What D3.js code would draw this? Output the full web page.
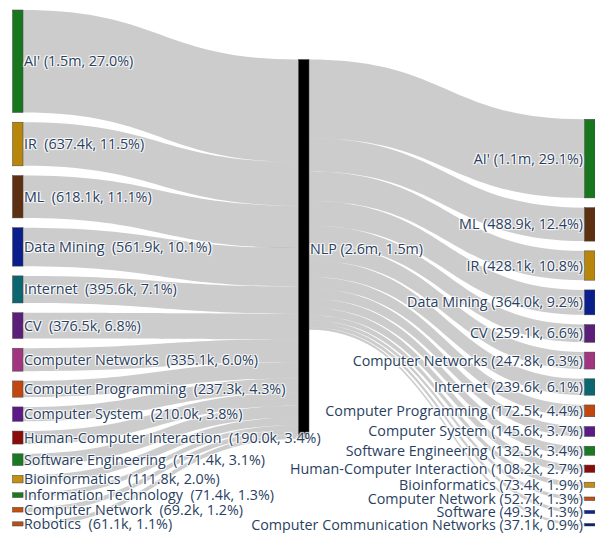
<!DOCTYPE html>
<html>
<head>
<meta charset="utf-8">
<script src="https://cdn.jsdelivr.net/npm/d3@7"></script>
<style>
  html, body { margin: 0; padding: 0; background: #fff; }
  svg { display: block; }
  .lbl { font-family: "Open Sans", sans-serif; font-size: 14.3px; fill: #2a3f5f; white-space: pre;
         text-shadow: 1px 1px 1px #fff, -1px -1px 1px #fff, 1px -1px 1px #fff, -1px 1px 1px #fff; }
</style>
</head>
<body>
<div id="chart"></div>
<script>
// ---------- data (values in thousands) ----------
const leftNames = ["AI'", "IR", "ML", "Data Mining", "Internet", "CV", "Computer Networks",
  "Computer Programming", "Computer System", "Human-Computer Interaction", "Software Engineering",
  "Bioinformatics", "Information Technology", "Computer Network", "Robotics"];
const leftValues = [1496.8, 637.4, 618.1, 561.9, 395.6, 376.5, 335.1, 237.3, 210.0, 190.0, 171.4, 111.8, 71.4, 69.2, 61.1];
const leftLabels = ["AI' (1.5m, 27.0%)", "IR  (637.4k, 11.5%)", "ML  (618.1k, 11.1%)",
  "Data Mining  (561.9k, 10.1%)", "Internet  (395.6k, 7.1%)", "CV  (376.5k, 6.8%)",
  "Computer Networks  (335.1k, 6.0%)", "Computer Programming  (237.3k, 4.3%)",
  "Computer System  (210.0k, 3.8%)", "Human-Computer Interaction  (190.0k, 3.4%)",
  "Software Engineering  (171.4k, 3.1%)", "Bioinformatics  (111.8k, 2.0%)",
  "Information Technology  (71.4k, 1.3%)", "Computer Network  (69.2k, 1.2%)", "Robotics  (61.1k, 1.1%)"];

const midName = "NLP";
const midLabel = "NLP (2.6m, 1.5m)";

const rightNames = ["AI'", "ML", "IR", "Data Mining", "CV", "Computer Networks", "Internet",
  "Computer Programming", "Computer System", "Software Engineering", "Human-Computer Interaction",
  "Bioinformatics", "Computer Network", "Software", "Computer Communication Networks"];
const rightValues = [1148.7, 488.9, 428.1, 364.0, 259.1, 247.8, 239.6, 172.5, 145.6, 132.5, 108.2, 73.4, 52.7, 49.3, 37.1];
const rightLabels = ["AI' (1.1m, 29.1%)", "ML (488.9k, 12.4%)", "IR (428.1k, 10.8%)",
  "Data Mining (364.0k, 9.2%)", "CV (259.1k, 6.6%)", "Computer Networks (247.8k, 6.3%)",
  "Internet (239.6k, 6.1%)", "Computer Programming (172.5k, 4.4%)", "Computer System (145.6k, 3.7%)",
  "Software Engineering (132.5k, 3.4%)", "Human-Computer Interaction (108.2k, 2.7%)",
  "Bioinformatics (73.4k, 1.9%)", "Computer Network (52.7k, 1.3%)", "Software (49.3k, 1.3%)",
  "Computer Communication Networks (37.1k, 0.9%)"];

// ---------- styles ----------
const nodeColor = {
  "AI'": "#18761f", "IR": "#b8860b", "ML": "#5c3010", "Data Mining": "#0a1f8c",
  "Internet": "#0c6670", "CV": "#5b1e79", "Computer Networks": "#a23580",
  "Computer Programming": "#c1470f", "Computer System": "#5b1a87",
  "Human-Computer Interaction": "#8b0b0b", "Software Engineering": "#197a21",
  "Bioinformatics": "#c49012", "Information Technology": "#1b7a1e",
  "Computer Network": "#c4500f", "Robotics": "#b5501c", "Software": "#0b2596",
  "Computer Communication Networks": "#0b1f70", "NLP": "#000000"
};

(function () {
const W = 595, H = 533;
const nodeW = 10.5, pad = 9.75;
const yTop = 10, yBottom = 526;
const midTop = 59.5;

const svg = d3.select("#chart").append("svg").attr("width", W).attr("height", H);

const xCol = d3.scaleLinear().domain([0, 2]).range([12.5, W - nodeW]);

const leftTotal = d3.sum(leftValues), rightTotal = d3.sum(rightValues);
const ky = (yBottom - yTop - (leftNames.length - 1) * pad) / leftTotal;
const hScale = d3.scaleLinear().domain([0, leftTotal]).range([0, leftTotal * ky]);

let y = yTop;
const leftNodes = leftNames.map((n, i) => {
  const h = hScale(leftValues[i]);
  const node = { name: n, label: leftLabels[i], x0: xCol(0), x1: xCol(0) + nodeW, y0: y, y1: y + h };
  y += h + pad; return node;
});
const rightH = d3.sum(rightValues, v => hScale(v)) + (rightNames.length - 1) * pad;
y = yBottom - rightH;
const rightNodes = rightNames.map((n, i) => {
  const h = hScale(rightValues[i]);
  const node = { name: n, label: rightLabels[i], x0: xCol(2), x1: xCol(2) + nodeW, y0: y, y1: y + h };
  y += h + pad; return node;
});
const midH = hScale(Math.max(leftTotal, rightTotal));
const midNode = { name: midName, label: midLabel, x0: xCol(1), x1: xCol(1) + nodeW, y0: midTop, y1: midTop + midH };

const links = [];
let inY = midNode.y0;
leftNodes.forEach((s, i) => {
  const w = hScale(leftValues[i]);
  links.push({ x0: s.x1, x1: midNode.x0, sy: s.y0, ty: inY, w });
  inY += w;
});
let outY = midNode.y0;
rightNodes.forEach((t, i) => {
  const w = hScale(rightValues[i]);
  links.push({ x0: midNode.x1, x1: t.x0, sy: outY, ty: t.y0, w });
  outY += w;
});

function linkPath(d) {
  const xm = (d.x0 + d.x1) / 2;
  const p = d3.path();
  p.moveTo(d.x0, d.sy);
  p.bezierCurveTo(xm, d.sy, xm, d.ty, d.x1, d.ty);
  p.lineTo(d.x1, d.ty + d.w);
  p.bezierCurveTo(xm, d.ty + d.w, xm, d.sy + d.w, d.x0, d.sy + d.w);
  p.closePath();
  return p.toString();
}

svg.append("g").selectAll("path").data(links).join("path")
  .attr("d", linkPath)
  .attr("fill", "rgba(0,0,0,0.2)");

const allNodes = leftNodes.concat([midNode], rightNodes);
svg.append("g").selectAll("rect").data(allNodes).join("rect")
  .attr("x", d => d.x0).attr("y", d => d.y0)
  .attr("width", d => d.x1 - d.x0).attr("height", d => Math.max(1, d.y1 - d.y0))
  .attr("fill", d => nodeColor[d.name])
  .attr("stroke", "#444").attr("stroke-width", 0.5);

const lg = svg.append("g");
lg.selectAll("text.l").data(leftNodes.concat([midNode])).join("text")
  .attr("class", "lbl")
  .attr("x", d => d.x1 + 1)
  .attr("y", d => (d.y0 + d.y1) / 2)
  .attr("dy", "0.35em")
  .text(d => d.label);
lg.selectAll("text.r").data(rightNodes).join("text")
  .attr("class", "lbl")
  .attr("x", d => d.x0 - 1.5)
  .attr("y", d => (d.y0 + d.y1) / 2)
  .attr("dy", "0.35em")
  .attr("text-anchor", "end")
  .text(d => d.label);
})();
</script>
</body>
</html>
